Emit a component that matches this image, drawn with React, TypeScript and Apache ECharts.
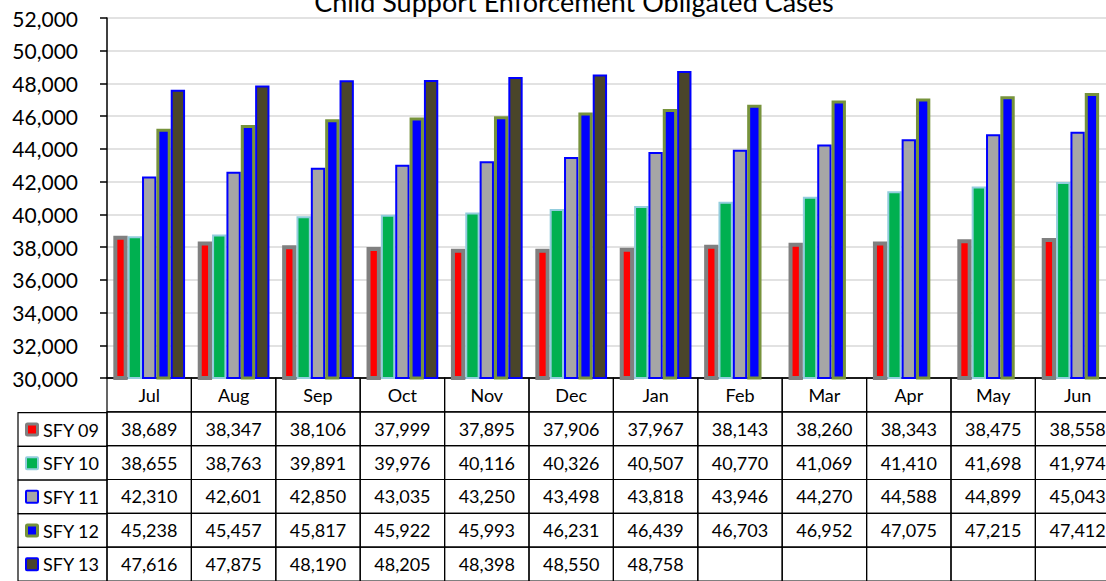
import React, { useEffect, useRef } from "react";
import * as echarts from "echarts";

const titleText = "Child Support Enforcement Obligated Cases";
const months = ["Jul", "Aug", "Sep", "Oct", "Nov", "Dec", "Jan", "Feb", "Mar", "Apr", "May", "Jun"];
const seriesNames = ["SFY 09", "SFY 10", "SFY 11", "SFY 12", "SFY 13"];
const sfy09 = [38689, 38347, 38106, 37999, 37895, 37906, 37967, 38143, 38260, 38343, 38475, 38558];
const sfy10 = [38655, 38763, 39891, 39976, 40116, 40326, 40507, 40770, 41069, 41410, 41698, 41974];
const sfy11 = [42310, 42601, 42850, 43035, 43250, 43498, 43818, 43946, 44270, 44588, 44899, 45043];
const sfy12 = [45238, 45457, 45817, 45922, 45993, 46231, 46439, 46703, 46952, 47075, 47215, 47412];
const sfy13 = [47616, 47875, 48190, 48205, 48398, 48550, 48758, null, null, null, null, null];
const yMin = 30000;
const yMax = 52000;
const yInterval = 2000;

const allSeries = [sfy09, sfy10, sfy11, sfy12, sfy13];
const fills = ["#FF0000", "#00B050", "#A6A6A6", "#0000FF", "#4A452A"];
const borders = ["#808080", "#93CDDD", "#0000FF", "#77933C", "#0000FF"];
const borderWidths = [4, 2, 2, 3, 2];

const FONT = "Lato";
const fmt = (v: number | null) => (v == null ? "" : v.toLocaleString("en-US"));

const CHART_W = 1130; // wider than the window: the reference chart is cut at the right edge

export default function App() {
  const ref = useRef<HTMLDivElement>(null);
  useEffect(() => {
    if (!ref.current) return;
    const chart = echarts.init(ref.current, undefined, { renderer: "svg" });

    const rowKeys = ["hdr", ...seriesNames];
    const tableCells: any[] = [];
    months.forEach((m, c) => {
      tableCells.push([c, 0, m]);
      allSeries.forEach((s, r) => tableCells.push([c, r + 1, fmt(s[c])]));
    });
    const legendCells = seriesNames.map((n, r) => [0, r, n]);

    const gridLeft = 107;
    const gridTop = 18;
    const catW = 84.4;
    const gridW = catW * months.length;
    const gridH = 360;
    const tableH = 208;
    const rowH = tableH / 6;

    const option: any = {
      animation: false,
      backgroundColor: "#fff",
      graphic: [
        {
          type: "text",
          x: 574,
          y: 1,
          style: {
            text: titleText,
            fontFamily: FONT,
            fontSize: 27,
            fill: "#000",
            align: "center",
            verticalAlign: "middle",
          },
        },
      ],
      grid: [
        { left: gridLeft, top: gridTop, width: gridW, height: gridH },
        { left: gridLeft, top: gridTop + gridH, width: gridW, height: tableH },
        { left: 18, top: gridTop + gridH + rowH, width: gridLeft - 18, height: rowH * 5 },
      ],
      xAxis: [
        {
          type: "category",
          data: months,
          gridIndex: 0,
          axisLine: { show: true, lineStyle: { color: "#000", width: 1.5 } },
          axisTick: { show: false },
          axisLabel: { show: false },
        },
        { type: "category", data: months, gridIndex: 1, show: false },
        { type: "category", data: [""], gridIndex: 2, show: false },
      ],
      yAxis: [
        {
          type: "value",
          gridIndex: 0,
          min: yMin,
          max: yMax,
          interval: yInterval,
          axisLine: { show: true, lineStyle: { color: "#000", width: 1.5 } },
          axisTick: { show: true, length: 7, lineStyle: { color: "#000", width: 1.5 } },
          axisLabel: {
            fontFamily: FONT,
            fontSize: 21,
            color: "#000",
            margin: 29,
            formatter: (v: number) => v.toLocaleString("en-US"),
          },
          splitLine: { show: true, lineStyle: { color: "#D9D9D9", width: 1.5 } },
        },
        { type: "category", data: rowKeys, inverse: true, gridIndex: 1, show: false },
        { type: "category", data: seriesNames, inverse: true, gridIndex: 2, show: false },
      ],
      series: [
        ...seriesNames.map((name, i) => ({
          name,
          type: "bar",
          xAxisIndex: 0,
          yAxisIndex: 0,
          data: allSeries[i],
          barGap: "0%",
          barCategoryGap: "15%",
          itemStyle: {
            color: fills[i],
            borderColor: borders[i],
            borderWidth: borderWidths[i],
          },
        })),
        {
          type: "custom",
          xAxisIndex: 1,
          yAxisIndex: 1,
          data: tableCells,
          renderItem: (params: any, api: any) => {
            const c = api.value(0);
            const r = api.value(1);
            const txt = tableCells[params.dataIndex][2];
            const pt = api.coord([c, r]);
            const sz = api.size([1, 1]);
            return {
              type: "group",
              children: [
                {
                  type: "rect",
                  shape: { x: pt[0] - sz[0] / 2, y: pt[1] - sz[1] / 2, width: sz[0], height: sz[1] },
                  style: { fill: "none", stroke: "#000", lineWidth: 1.2 },
                },
                {
                  type: "text",
                  x: pt[0],
                  y: pt[1],
                  style: {
                    text: txt,
                    fontFamily: FONT,
                    fontSize: 18,
                    fill: "#000",
                    align: "center",
                    verticalAlign: "middle",
                  },
                },
              ],
            };
          },
        },
        {
          type: "custom",
          xAxisIndex: 2,
          yAxisIndex: 2,
          data: legendCells,
          renderItem: (params: any, api: any) => {
            const r = api.value(1);
            const txt = legendCells[params.dataIndex][2] as string;
            const pt = api.coord([0, r]);
            const sz = api.size([1, 1]);
            const left = pt[0] - sz[0] / 2;
            const bw = Math.min(borderWidths[r], 3);
            return {
              type: "group",
              children: [
                {
                  type: "rect",
                  shape: { x: left, y: pt[1] - sz[1] / 2, width: sz[0], height: sz[1] },
                  style: { fill: "none", stroke: "#000", lineWidth: 1.2 },
                },
                {
                  type: "rect",
                  shape: { x: left + 7 + bw / 2, y: pt[1] - 7 + bw / 2, width: 14 - bw, height: 14 - bw, r: 1 },
                  style: { fill: fills[r], stroke: borders[r], lineWidth: bw },
                },
                {
                  type: "text",
                  x: left + 25,
                  y: pt[1],
                  style: {
                    text: txt,
                    fontFamily: FONT,
                    fontSize: 18,
                    fill: "#000",
                    align: "left",
                    verticalAlign: "middle",
                  },
                },
              ],
            };
          },
        },
      ],
    };
    chart.setOption(option);
    return () => chart.dispose();
  }, []);
  return (
    <div
      style={{ position: "fixed", left: 0, top: 0, width: 1106, height: 581, overflow: "hidden", background: "#fff" }}
    >
      <div ref={ref} style={{ width: CHART_W, height: 581 }} />
    </div>
  );
}
